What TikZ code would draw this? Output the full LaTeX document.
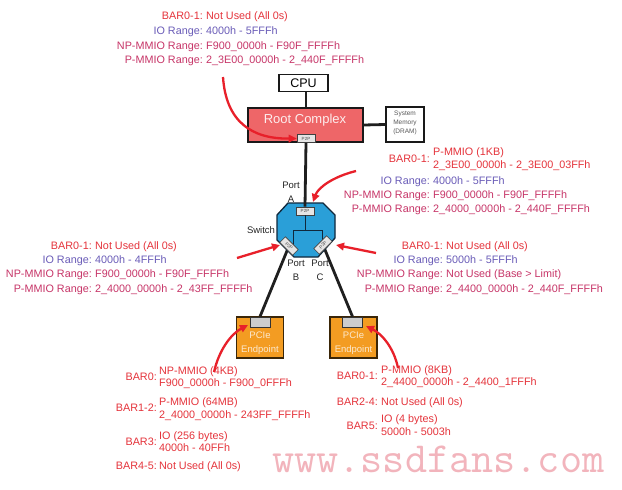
\documentclass[tikz,border=0pt]{standalone}
\usepackage{fontspec}
\setmainfont{Liberation Sans}
\usetikzlibrary{arrows.meta}
\definecolor{cred}{HTML}{E5333B}
\definecolor{cpur}{HTML}{6A5CB8}
\definecolor{cmag}{HTML}{C73568}
\definecolor{rcfill}{HTML}{EE6668}
\definecolor{swfill}{HTML}{2A9FD8}
\definecolor{swline}{HTML}{10283C}
\definecolor{epfill}{HTML}{F39C22}
\definecolor{epline}{HTML}{3A2608}
\definecolor{eptext}{HTML}{FCE9CE}
\definecolor{wmark}{HTML}{F2B4BC}
\definecolor{arrowred}{HTML}{E8202A}
\begin{document}
\begin{tikzpicture}[x=1pt,y=-1pt,
  txt/.style={inner sep=0pt, font=\fontsize{10.8}{12}\selectfont, text height=7.7pt, text depth=2.3pt},
  lab/.style={txt, anchor=east},
  val/.style={txt, anchor=west},
  link/.style={line width=2.8pt, draw=black!88},
  pointer/.style={draw=arrowred, line width=2.3pt, -{Triangle[length=8pt,width=7.5pt]}},
  p2p/.style={draw=black!75, fill=black!10, line width=0.6pt, minimum width=18pt, minimum height=8pt, inner sep=0pt, font=\fontsize{4.5}{5}\selectfont, text=black!70},
  box/.style={draw=black!90, line width=1.3pt, inner sep=0pt},
  plabel/.style={inner sep=0pt, align=center, font=\fontsize{9.5}{14}\selectfont, text=black!85},
]
\useasboundingbox (0,0) rectangle (622,490);
\fill[white] (0,0) rectangle (622,490);

% ---------- watermark ----------
\node[font=\ttfamily\fontsize{43}{43}\selectfont, text=wmark, anchor=base west, inner sep=0pt] (wm) at (272,472) {www.ssdfans.com};

% ---------- top-left block ----------
\node[lab,text=cred] (tl1l) at (203,17) {BAR0-1:};
\node[val,text=cred] (tl1v) at (206,17) {Not Used (All 0s)};
\node[lab,text=cpur] (tl2l) at (203,32) {IO Range:};
\node[val,text=cpur] (tl2v) at (206,32) {4000h - 5FFFh};
\node[lab,text=cmag] (tl3l) at (203,47) {NP-MMIO Range:};
\node[val,text=cmag] (tl3v) at (206,47) {F900\_0000h - F90F\_FFFFh};
\node[lab,text=cmag] (tl4l) at (203,61) {P-MMIO Range:};
\node[val,text=cmag] (tl4v) at (206,61) {2\_3E00\_0000h - 2\_440F\_FFFFh};

% ---------- right block (port A) ----------
\node[lab,text=cred] (ra1l) at (430,160) {BAR0-1:};
\node[val,text=cred] (ra1v) at (433,153) {P-MMIO (1KB)};
\node[val,text=cred] (ra1w) at (433,166) {2\_3E00\_0000h - 2\_3E00\_03FFh};
\node[lab,text=cpur] (ra2l) at (430,182) {IO Range:};
\node[val,text=cpur] (ra2v) at (433,182) {4000h - 5FFFh};
\node[lab,text=cmag] (ra3l) at (430,196) {NP-MMIO Range:};
\node[val,text=cmag] (ra3v) at (433,196) {F900\_0000h - F90F\_FFFFh};
\node[lab,text=cmag] (ra4l) at (430,210) {P-MMIO Range:};
\node[val,text=cmag] (ra4v) at (433,210) {2\_4000\_0000h - 2\_440F\_FFFFh};

% ---------- left block (port B) ----------
\node[lab,text=cred] (lb1l) at (92,247) {BAR0-1:};
\node[val,text=cred] (lb1v) at (95,247) {Not Used (All 0s)};
\node[lab,text=cpur] (lb2l) at (92,261) {IO Range:};
\node[val,text=cpur] (lb2v) at (95,261) {4000h - 4FFFh};
\node[lab,text=cmag] (lb3l) at (92,275) {NP-MMIO Range:};
\node[val,text=cmag] (lb3v) at (95,275) {F900\_0000h - F90F\_FFFFh};
\node[lab,text=cmag] (lb4l) at (92,290) {P-MMIO Range:};
\node[val,text=cmag] (lb4v) at (95,290) {2\_4000\_0000h - 2\_43FF\_FFFFh};

% ---------- right block (port C) ----------
\node[lab,text=cred] (rc1l) at (443,247) {BAR0-1:};
\node[val,text=cred] (rc1v) at (446,247) {Not Used (All 0s)};
\node[lab,text=cpur] (rc2l) at (443,261) {IO Range:};
\node[val,text=cpur] (rc2v) at (446,261) {5000h - 5FFFh};
\node[lab,text=cmag] (rc3l) at (443,275) {NP-MMIO Range:};
\node[val,text=cmag] (rc3v) at (446,275) {Not Used (Base > Limit)};
\node[lab,text=cmag] (rc4l) at (443,290) {P-MMIO Range:};
\node[val,text=cmag] (rc4v) at (446,290) {2\_4400\_0000h - 2\_440F\_FFFFh};

% ---------- bottom-left block ----------
\node[lab,text=cred] (bl1l) at (157,378) {BAR0:};
\node[val,text=cred] (bl1v) at (159,372) {NP-MMIO (4KB)};
\node[val,text=cred] (bl1w) at (159,384) {F900\_0000h - F900\_0FFFh};
\node[lab,text=cred] (bl2l) at (157,409) {BAR1-2:};
\node[val,text=cred] (bl2v) at (159,403) {P-MMIO (64MB)};
\node[val,text=cred] (bl2w) at (159,416) {2\_4000\_0000h - 243FF\_FFFFh};
\node[lab,text=cred] (bl3l) at (157,443) {BAR3:};
\node[val,text=cred] (bl3v) at (159,437) {IO (256 bytes)};
\node[val,text=cred] (bl3w) at (159,449) {4000h - 40FFh};
\node[lab,text=cred] (bl4l) at (157,467) {BAR4-5:};
\node[val,text=cred] (bl4v) at (159,467) {Not Used (All 0s)};

% ---------- bottom-right block ----------
\node[lab,text=cred] (br1l) at (378,377) {BAR0-1:};
\node[val,text=cred] (br1v) at (381,371) {P-MMIO (8KB)};
\node[val,text=cred] (br1w) at (381,383) {2\_4400\_0000h - 2\_4400\_1FFFh};
\node[lab,text=cred] (br2l) at (378,403) {BAR2-4:};
\node[val,text=cred] (br2v) at (381,403) {Not Used (All 0s)};
\node[lab,text=cred] (br3l) at (378,427) {BAR5:};
\node[val,text=cred] (br3v) at (381,420) {IO (4 bytes)};
\node[val,text=cred] (br3w) at (381,433) {5000h - 5003h};

% ---------- CPU / Root complex / memory ----------
\node[box, minimum width=49pt, minimum height=17pt, font=\fontsize{12.5}{13}\selectfont] (cpu) at (303.5,83) {CPU};
\node[box, fill=rcfill, minimum width=115pt, minimum height=34pt] (rc) at (305.5,125) {};
\node[inner sep=0pt, font=\fontsize{13}{14}\selectfont, text=white!88!rcfill] (rct) at (305,120) {Root Complex};
\node[p2p] (rcp) at (306,138.5) {P2P};
\node[box, fill=white, line width=1.1pt, minimum width=38pt, minimum height=35pt] (mem) at (405,124.5) {};
\node[inner sep=0pt, align=center, font=\fontsize{6.5}{9}\selectfont, text=black!65] (memt) at (405,123) {System\\Memory\\(DRAM)};
\draw[link] (cpu.south -| rcp.center) -- (rc.north -| rcp.center);
\draw[link] (rc.east) -- (mem.west);

% ---------- endpoints ----------
\node[box, fill=epfill, draw=epline, minimum width=47pt, minimum height=41pt] (ep1) at (260,337.5) {};
\node[draw=black!80, fill=black!20, line width=0.8pt, minimum width=20pt, minimum height=10pt, inner sep=0pt] (ep1tab) at (260,322) {};
\node[plabel, text=eptext] (ep1t) at (260,343) {PCIe\\Endpoint};
\node[box, fill=epfill, draw=epline, minimum width=47pt, minimum height=41pt] (ep2) at (353.5,337.5) {};
\node[draw=black!80, fill=black!20, line width=0.8pt, minimum width=20pt, minimum height=10pt, inner sep=0pt] (ep2tab) at (352.5,322) {};
\node[plabel, text=eptext] (ep2t) at (353.5,343) {PCIe\\Endpoint};

% ---------- switch ----------
\coordinate (swlc) at (289,246);
\coordinate (swrc) at (323,245);
\draw[link] (swlc) -- (ep1tab.north);
\draw[link] (swrc) -- (ep2tab.north);
\draw[fill=swfill, draw=swline, line width=1.3pt] (288,203) -- (323,203) -- (335,215) -- (335,238) -- (318,257) -- (294,257) -- (277,240) -- (277,215) -- cycle;
\node[p2p] (swtop) at (305,211) {P2P};
\coordinate (swj) at (305,230);
\coordinate (swjl) at (293,230);
\coordinate (swjr) at (322,230);
\draw[swline, line width=0.8pt] (swtop.south) -- (swj);
\draw[swline, line width=0.8pt] (swjl) -- (swjr);
\draw[swline, line width=0.8pt] (swjl) -- (swjl |- swlc);
\draw[swline, line width=0.8pt] (swjr) -- (swjr |- swrc);
\node[p2p, rotate=-45] (swlp) at (swlc) {P2P};
\node[p2p, rotate=45] (swrp) at (swrc) {P2P};
\draw[link] (rcp.south) -- (swtop.north);

\node[plabel] (portA) at (291,192) {Port\\A};
\node[plabel] (swl) at (261,230) {Switch};
\node[plabel] (portB) at (296,270) {Port\\B};
\node[plabel] (portC) at (320,270) {Port\\C};

% ---------- red pointers ----------
\coordinate (a1s) at (223,77);
\draw[pointer] (a1s) .. controls (226,122) and (252,139) .. (rcp.west);
\coordinate (a2s) at (356,171);
\coordinate (a2e) at (313,202);
\draw[pointer] (a2s) .. controls (332,177) and (318,188) .. (a2e);
\coordinate (a3s) at (237,258);
\coordinate (a3e) at (280,245);
\draw[pointer] (a3s) -- (a3e);
\coordinate (a4s) at (376,253);
\coordinate (a4e) at (336,245);
\draw[pointer] (a4s) -- (a4e);
\coordinate (a5s) at (214,372);
\coordinate (a5e) at (248,325);
\draw[pointer] (a5s) .. controls (219,350) and (231,334) .. (a5e);
\coordinate (a6s) at (398,368);
\coordinate (a6e) at (366,326);
\draw[pointer] (a6s) .. controls (394,348) and (382,334) .. (a6e);
\end{tikzpicture}
\end{document}
